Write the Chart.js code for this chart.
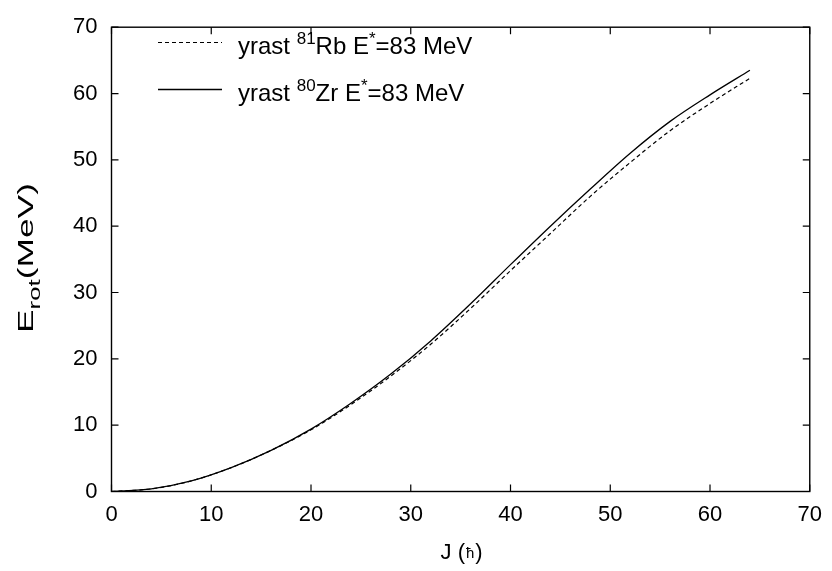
<!DOCTYPE html>
<html><head><meta charset="utf-8">
<script src="https://cdn.jsdelivr.net/npm/chart.js@4"></script>
<style>html,body{margin:0;padding:0;background:#fff}</style>
</head><body>
<canvas id="c" width="832" height="571" style="width:832px;height:571px;display:block"></canvas>
<script>
// Data
const J     = [0, 4, 8, 12, 16, 20, 24, 28, 32, 36, 40, 44, 48, 52, 56, 60, 64];
const rb81  = [0, 0.4, 1.6, 3.6, 6.2, 9.3, 13.1, 17.4, 22.2, 27.6, 33.3, 38.9, 44.5, 49.6, 54.4, 58.5, 62.3];
const zr80  = [0, 0.4, 1.6, 3.6, 6.2, 9.4, 13.3, 17.7, 22.7, 28.3, 34.2, 40.0, 45.6, 51.0, 55.8, 59.8, 63.5];
const xTicks = [0, 10, 20, 30, 40, 50, 60, 70];
const yTicks = [0, 10, 20, 30, 40, 50, 60, 70];

const FONT = '"Liberation Sans", Arial, sans-serif';

function pts(xs, ys){ return xs.map((x,i)=>({x:x, y:ys[i]})); }

function drawRich(ctx, parts, x, y, base, small, rise){
  let cx = x;
  for (const p of parts){
    if (p.sup){ ctx.font = small + 'px ' + FONT; ctx.fillText(p.t, cx, y - rise); }
    else if (p.sub){ ctx.font = small + 'px ' + FONT; ctx.fillText(p.t, cx, y + rise); }
    else { ctx.font = base + 'px ' + FONT; ctx.fillText(p.t, cx, y); }
    cx += ctx.measureText(p.t).width;
  }
  return cx - x;
}
function measureRich(ctx, parts, base, small){
  let w = 0;
  for (const p of parts){
    ctx.font = ((p.sup||p.sub) ? small : base) + 'px ' + FONT;
    w += ctx.measureText(p.t).width;
  }
  return w;
}

const deco = {
  id: 'deco',
  afterDraw(chart){
    const ctx = chart.ctx, a = chart.chartArea;
    const xs = chart.scales.x, ys = chart.scales.y;
    ctx.save();
    ctx.strokeStyle = '#000';
    ctx.lineWidth = 1.4;
    ctx.strokeRect(a.left, a.top, a.right - a.left, a.bottom - a.top);
    const tl = 7;
    ctx.lineWidth = 1.2;
    ctx.beginPath();
    for (const v of xTicks){
      const px = xs.getPixelForValue(v);
      ctx.moveTo(px, a.bottom); ctx.lineTo(px, a.bottom - tl);
      ctx.moveTo(px, a.top); ctx.lineTo(px, a.top + tl);
    }
    for (const v of yTicks){
      const py = ys.getPixelForValue(v);
      ctx.moveTo(a.left, py); ctx.lineTo(a.left + tl, py);
      ctx.moveTo(a.right, py); ctx.lineTo(a.right - tl, py);
    }
    ctx.stroke();

    // legend
    ctx.fillStyle = '#000';
    ctx.textBaseline = 'alphabetic';
    ctx.textAlign = 'left';
    const legends = [
      {ds: 0, y: 42.5, base: 54, parts: [{t:'yrast '},{t:'81',sup:1},{t:'Rb E'},{t:'*',sup:1},{t:'=83 MeV'}]},
      {ds: 1, y: 89.5, base: 101, parts: [{t:'yrast '},{t:'80',sup:1},{t:'Zr E'},{t:'*',sup:1},{t:'=83 MeV'}]}
    ];
    for (const L of legends){
      const d = chart.data.datasets[L.ds];
      ctx.strokeStyle = d.borderColor;
      ctx.lineWidth = d.borderWidth;
      ctx.setLineDash(d.borderDash || []);
      ctx.beginPath(); ctx.moveTo(158, L.y); ctx.lineTo(222, L.y); ctx.stroke();
      ctx.setLineDash([]);
      drawRich(ctx, L.parts, 238, L.base, 24, 17, 10);
    }

    // x title
    ctx.font = '22px ' + FONT;
    const w1 = ctx.measureText('J (').width;
    ctx.font = '15px ' + FONT;
    const w2 = ctx.measureText('\u0127').width;
    ctx.font = '22px ' + FONT;
    const w3 = ctx.measureText(')').width;
    const cxm = (a.left + a.right) / 2;
    const sx = cxm - (w1 + w2 + w3) / 2;
    const by = 559;
    ctx.font = '22px ' + FONT; ctx.fillText('J (', sx, by);
    ctx.font = '15px ' + FONT; ctx.fillText('\u0127', sx + w1 + 1, by - 1);
    ctx.font = '22px ' + FONT; ctx.fillText(')', sx + w1 + w2 + 2, by);

    // y title (stretched along its length like the reference)
    const yparts = [{t:'E'},{t:'rot',sub:1},{t:'(MeV)'}];
    const yw = measureRich(ctx, yparts, 22, 16);
    const target = 150;
    ctx.translate(33, 258);
    ctx.rotate(-Math.PI/2);
    ctx.scale(target / yw, 1);
    drawRich(ctx, yparts, -yw/2, 0, 22, 16, 7);
    ctx.restore();
  }
};

new Chart(document.getElementById('c'), {
  type: 'line',
  data: {
    datasets: [
      { label: 'yrast 81Rb E*=83 MeV', data: pts(J, rb81), borderColor: '#000', borderWidth: 1.2,
        borderDash: [4, 3], pointRadius: 0, fill: false, cubicInterpolationMode: 'monotone' },
      { label: 'yrast 80Zr E*=83 MeV', data: pts(J, zr80), borderColor: '#000', borderWidth: 1.3,
        pointRadius: 0, fill: false, cubicInterpolationMode: 'monotone' }
    ]
  },
  options: {
    responsive: false,
    animation: false,
    devicePixelRatio: 1,
    layout: { padding: { left: 0, top: 17, right: 19, bottom: 0 } },
    plugins: { legend: { display: false }, tooltip: { enabled: false } },
    scales: {
      x: {
        type: 'linear', min: 0, max: 70,
        afterBuildTicks(s){ s.ticks = xTicks.map(v=>({value:v})); },
        afterFit(s){ s.height = 79.5; },
        grid: { display: false, drawTicks: false },
        border: { display: false },
        ticks: { color: '#000', font: { family: FONT, size: 22 }, padding: 10, maxRotation: 0 }
      },
      y: {
        type: 'linear', min: 0, max: 70,
        afterBuildTicks(s){ s.ticks = yTicks.map(v=>({value:v})); },
        afterFit(s){ s.width = 111.5; },
        grid: { display: false, drawTicks: false },
        border: { display: false },
        ticks: { color: '#000', font: { family: FONT, size: 22 }, padding: 14 }
      }
    }
  },
  plugins: [deco]
});
</script>
</body></html>
